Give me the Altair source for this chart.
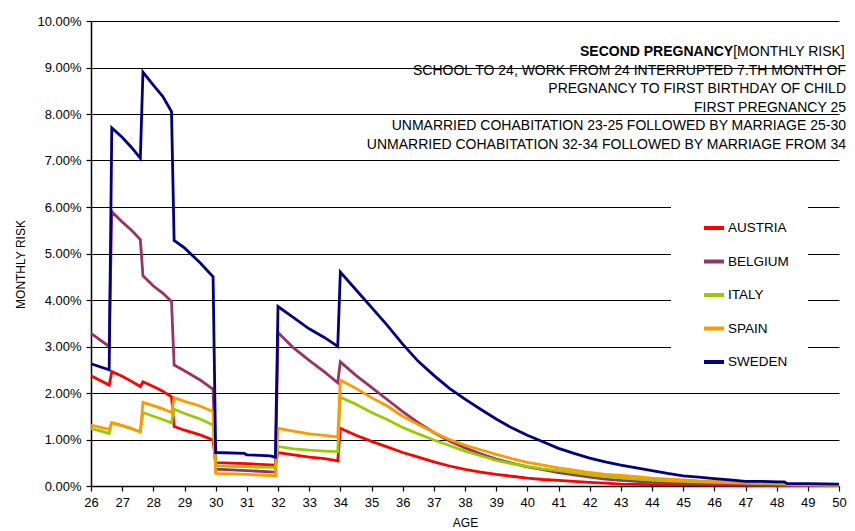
import altair as alt
import pandas as pd

COUNTRIES = ["AUSTRIA", "BELGIUM", "ITALY", "SPAIN", "SWEDEN"]
COLORS = ["#FF0000", "#993366", "#99CC00", "#FF9900", "#000080"]

# monthly risk in percent
AGE_AUSTRIA = [26.0, 26.583, 26.667, 27.0, 27.3, 27.583, 27.667, 28.0, 28.3, 28.583, 28.667, 29.0, 29.5, 29.917,
               30.0, 31.0, 31.917, 32.0, 32.5, 33.0, 33.5, 33.917, 34.0, 34.5, 35.0, 35.5, 36.0, 36.5, 37.0,
               37.5, 38.0, 38.5, 39.0, 39.5, 40.0, 40.5, 41.0, 41.5, 42.0, 42.5, 43.0, 44.0, 46.0, 48.0, 50.0]
RISK_AUSTRIA = [2.37, 2.17, 2.46, 2.36, 2.25, 2.14, 2.24, 2.14, 2.04, 1.92, 1.28, 1.20, 1.10, 0.99,
                0.50, 0.48, 0.45, 0.72, 0.67, 0.62, 0.59, 0.54, 1.24, 1.09, 0.96, 0.84, 0.72, 0.62, 0.52,
                0.43, 0.36, 0.30, 0.25, 0.21, 0.17, 0.14, 0.12, 0.10, 0.08, 0.06, 0.04, 0.03, 0.02, 0.01, 0.01]

AGE_BELGIUM = [26.0, 26.583, 26.667, 27.0, 27.3, 27.583, 27.667, 28.0, 28.3, 28.583, 28.667, 29.0, 29.5, 29.917,
               30.0, 31.0, 31.917, 32.0, 32.5, 33.0, 33.5, 33.917, 34.0, 34.5, 35.0, 35.5, 36.0, 36.5, 37.0,
               37.5, 38.0, 38.5, 39.0, 39.5, 40.0, 40.5, 41.0, 41.5, 42.0, 42.5, 43.0, 43.5, 44.0, 45.0, 46.0,
               47.0, 48.2, 50.0]
RISK_BELGIUM = [3.28, 3.00, 5.90, 5.68, 5.50, 5.30, 4.52, 4.30, 4.15, 3.97, 2.60, 2.48, 2.28, 2.08,
                0.36, 0.33, 0.30, 3.30, 2.97, 2.70, 2.45, 2.22, 2.67, 2.38, 2.12, 1.86, 1.60, 1.36, 1.15,
                0.97, 0.82, 0.69, 0.58, 0.49, 0.41, 0.35, 0.29, 0.24, 0.19, 0.15, 0.12, 0.10, 0.08, 0.06, 0.04,
                0.03, 0.02, 0.01]

AGE_ITALY = [26.0, 26.583, 26.667, 27.0, 27.3, 27.583, 27.667, 28.0, 28.3, 28.583, 28.667, 29.0, 29.5, 29.917,
             30.0, 31.0, 31.917, 32.0, 32.5, 33.0, 33.5, 33.917, 34.0, 34.5, 35.0, 35.5, 36.0, 36.5, 37.0,
             37.5, 38.0, 38.5, 39.0, 39.5, 40.0, 40.5, 41.0, 41.5, 42.0, 42.5, 43.0, 43.5, 44.0, 44.5, 45.0,
             46.0, 47.0, 48.0, 48.25, 50.0]
RISK_ITALY = [1.24, 1.13, 1.36, 1.30, 1.23, 1.17, 1.58, 1.50, 1.43, 1.36, 1.65, 1.56, 1.44, 1.31,
              0.43, 0.41, 0.40, 0.85, 0.80, 0.77, 0.75, 0.74, 1.91, 1.76, 1.58, 1.43, 1.26, 1.12, 0.99,
              0.87, 0.75, 0.65, 0.55, 0.48, 0.42, 0.37, 0.33, 0.29, 0.24, 0.20, 0.18, 0.15, 0.13, 0.11, 0.10,
              0.08, 0.06, 0.05, 0.04, 0.02]

AGE_SPAIN = [26.0, 26.583, 26.667, 27.0, 27.3, 27.583, 27.667, 28.0, 28.3, 28.583, 28.667, 29.0, 29.5, 29.917,
             30.0, 31.0, 31.917, 32.0, 32.5, 33.0, 33.5, 33.917, 34.0, 34.5, 35.0, 35.5, 36.0, 36.5, 37.0,
             37.5, 38.0, 38.5, 39.0, 39.5, 40.0, 40.5, 41.0, 41.5, 42.0, 42.5, 43.0, 43.5, 44.0, 44.5, 45.0,
             45.5, 46.0, 47.0, 48.25, 48.333, 50.0]
RISK_SPAIN = [1.31, 1.22, 1.36, 1.30, 1.24, 1.16, 1.80, 1.73, 1.66, 1.58, 1.90, 1.82, 1.72, 1.60,
              0.27, 0.25, 0.22, 1.24, 1.18, 1.12, 1.09, 1.05, 2.28, 2.10, 1.90, 1.72, 1.50, 1.32, 1.15,
              1.00, 0.88, 0.78, 0.68, 0.59, 0.51, 0.45, 0.39, 0.34, 0.29, 0.25, 0.23, 0.20, 0.17, 0.15, 0.13,
              0.11, 0.10, 0.09, 0.08, 0.03, 0.02]

AGE_SWEDEN = [26.0, 26.583, 26.667, 27.0, 27.3, 27.583, 27.667, 28.0, 28.3, 28.583, 28.667, 29.0, 29.5, 29.917,
              30.0, 30.917, 31.0, 31.75, 31.917, 32.0, 32.5, 33.0, 33.5, 33.917, 34.0, 34.5, 35.0, 35.5,
              36.0, 36.5, 37.0, 37.5, 38.0, 38.5, 39.0, 39.5, 40.0, 40.5, 41.0, 41.5, 42.0, 42.5, 43.0,
              43.5, 44.0, 44.5, 45.0, 45.5, 46.0, 46.5, 47.0, 47.5, 48.0, 48.25, 48.333, 49.0, 50.0]
RISK_SWEDEN = [2.63, 2.50, 7.70, 7.50, 7.28, 7.05, 8.90, 8.62, 8.38, 8.05, 5.28, 5.12, 4.80, 4.50,
               0.72, 0.70, 0.67, 0.65, 0.62, 3.86, 3.62, 3.38, 3.19, 3.00, 4.60, 4.22, 3.84, 3.46,
               3.05, 2.68, 2.38, 2.10, 1.87, 1.65, 1.44, 1.25, 1.09, 0.95, 0.81, 0.70, 0.60, 0.52, 0.45,
               0.39, 0.33, 0.27, 0.22, 0.19, 0.16, 0.13, 0.10, 0.10, 0.09, 0.09, 0.05, 0.05, 0.04]

X_TICKS = list(range(26, 51))
Y_TICKS = [i / 100 for i in range(0, 11)]

ANNOT_BOLD = "SECOND PREGNANCY"
ANNOT_HEAD = "[MONTHLY RISK]"
ANNOT_LINES = [
    "SCHOOL TO 24, WORK FROM 24 INTERRUPTED 7.TH MONTH OF",
    "PREGNANCY TO FIRST BIRTHDAY OF CHILD",
    "FIRST PREGNANCY 25",
    "UNMARRIED COHABITATION 23-25 FOLLOWED BY MARRIAGE 25-30",
    "UNMARRIED COHABITATION 32-34 FOLLOWED BY MARRIAGE FROM 34",
]

series = {
    "AUSTRIA": (AGE_AUSTRIA, RISK_AUSTRIA),
    "BELGIUM": (AGE_BELGIUM, RISK_BELGIUM),
    "ITALY": (AGE_ITALY, RISK_ITALY),
    "SPAIN": (AGE_SPAIN, RISK_SPAIN),
    "SWEDEN": (AGE_SWEDEN, RISK_SWEDEN),
}
rows = []
for c in COUNTRIES:
    ages, risks = series[c]
    for a, r in zip(ages, risks):
        rows.append({"country": c, "age": a, "risk": r / 100.0})
df = pd.DataFrame(rows)

FONT = "Liberation Sans"
W, H = 748, 465

lines = alt.Chart(df).mark_line(strokeWidth=2.8).encode(
    x=alt.X("age:Q",
            scale=alt.Scale(domain=[26, 50], nice=False, zero=False),
            axis=alt.Axis(values=X_TICKS, format="d", title="AGE", grid=False,
                          labelPadding=5, titlePadding=8, labelFlush=False)),
    y=alt.Y("risk:Q",
            scale=alt.Scale(domain=[0, 0.10], nice=False),
            axis=alt.Axis(values=Y_TICKS, format=".2%", title="MONTHLY RISK", grid=True,
                          labelPadding=5, titleX=-71, titleY=243, titleAngle=270,
                          titleAlign="center", titleBaseline="middle")),
    color=alt.Color("country:N",
                    scale=alt.Scale(domain=COUNTRIES, range=COLORS),
                    legend=alt.Legend(orient="none", legendX=580, legendY=186,
                                      title="\u00a0\u00a0\u00a0\u00a0", titleOrient="right",
                                      titleFontSize=13, titlePadding=10,
                                      fillColor="white", padding=9,
                                      symbolType="stroke", symbolSize=400, symbolStrokeWidth=4,
                                      symbolOffset=22, labelOffset=2, rowPadding=13.5,
                                      labelFont=FONT, labelFontSize=13.5, labelColor="black")),
)

R = W + 7
TSIZE = 14
LINE_H = 18.6
Y0 = 31
head_w = 8.057 * TSIZE

layers = [lines]
layers.append(
    alt.Chart(pd.DataFrame({"t": [ANNOT_BOLD]})).mark_text(
        align="right", baseline="middle", font=FONT, fontSize=TSIZE, fontWeight="bold", color="black"
    ).encode(x=alt.value(R - head_w), y=alt.value(Y0), text="t:N")
)
layers.append(
    alt.Chart(pd.DataFrame({"t": [ANNOT_HEAD]})).mark_text(
        align="left", baseline="middle", font=FONT, fontSize=TSIZE, color="black"
    ).encode(x=alt.value(R - head_w), y=alt.value(Y0), text="t:N")
)
for i, line in enumerate(ANNOT_LINES):
    layers.append(
        alt.Chart(pd.DataFrame({"t": [line]})).mark_text(
            align="right", baseline="middle", font=FONT, fontSize=TSIZE, color="black"
        ).encode(x=alt.value(R), y=alt.value(Y0 + (i + 1) * LINE_H), text="t:N")
    )

chart = alt.layer(*layers).properties(
    width=W, height=H,
    autosize=alt.AutoSizeParams(type="none"),
    padding={"left": 83, "top": 13, "right": 8, "bottom": 44},
    background="white",
).configure_axis(
    labelFont=FONT, labelFontSize=13, labelColor="black",
    titleFont=FONT, titleFontSize=12, titleFontWeight="normal", titleColor="black",
    domainColor="black", domainWidth=1.5, tickColor="black", tickWidth=1.2, tickSize=5,
    gridColor="black", gridWidth=1, gridOpacity=1,
).configure_view(strokeWidth=0)

chart.save("out.html", embed_options={"renderer": "svg", "actions": False})
